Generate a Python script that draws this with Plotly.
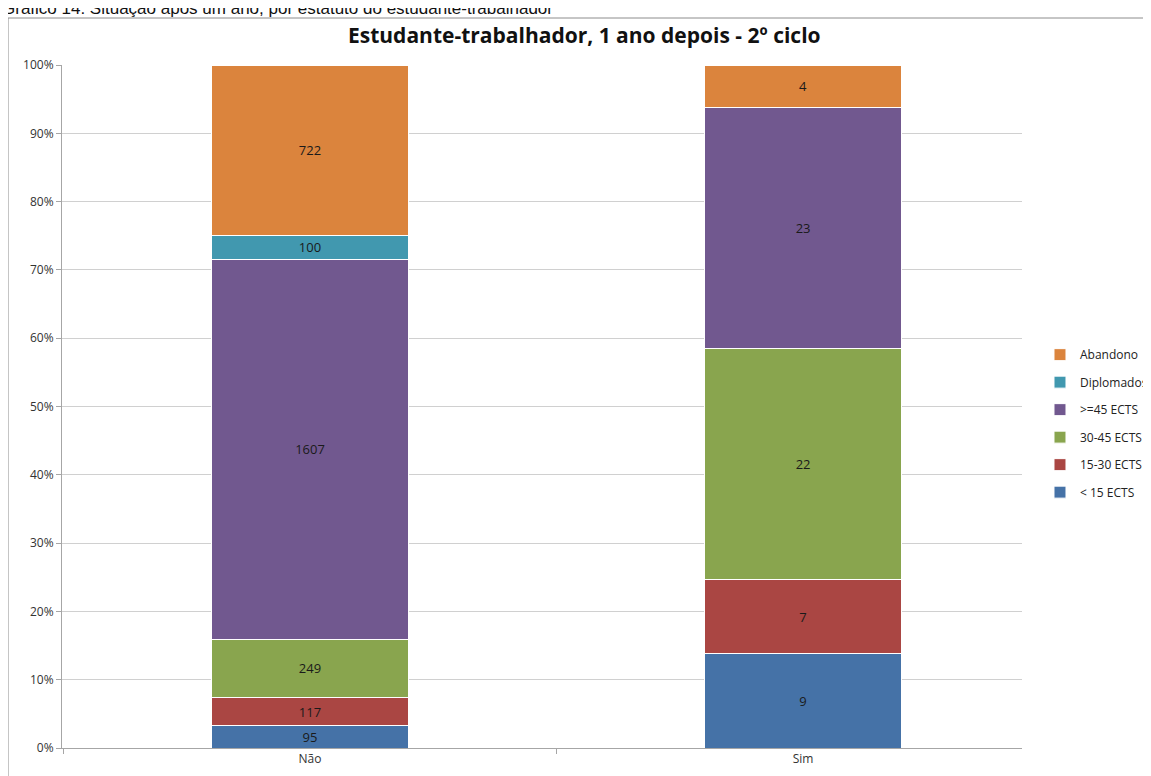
import plotly.graph_objects as go

categorias = ["Não", "Sim"]
series = ["< 15 ECTS", "15-30 ECTS", "30-45 ECTS", ">=45 ECTS", "Diplomados", "Abandono"]
menos_15 = [95, 9]
ects_15_30 = [117, 7]
ects_30_45 = [249, 22]
mais_45 = [1607, 23]
diplomados = [100, 0]
abandono = [722, 4]

valores = [menos_15, ects_15_30, ects_30_45, mais_45, diplomados, abandono]
cores = ["#4572A7", "#AA4643", "#89A54E", "#71588F", "#4198AF", "#DB843D"]

# the page body has an 8px margin, so plot pixels are page pixels minus 8
PLOT_L, PLOT_B, PLOT_W, PLOT_H = 62, 748, 960, 683


def px_x(p):
    return (p - PLOT_L) / PLOT_W


def px_y(p):
    return (PLOT_B - p) / PLOT_H


fig = go.Figure()
for i, (nome, vals, cor) in enumerate(zip(series, valores, cores)):
    fig.add_trace(go.Bar(
        x=categorias,
        y=vals,
        name=nome,
        legendgroup=nome,
        legendrank=100 - i,
        marker=dict(color=cor, line=dict(color="white", width=1)),
        width=0.4,
        text=[str(v) if v else "" for v in vals],
        textposition="inside",
        insidetextanchor="middle",
        textangle=0,
        constraintext="none",
        textfont=dict(color="#1a1a1a", size=13, family="Open Sans"),
        hoverinfo="skip",
    ))

fig.update_layout(
    barmode="stack",
    barnorm="percent",
    width=1151,
    height=776,
    margin=dict(l=54, r=137, t=57, b=36),
    paper_bgcolor="white",
    plot_bgcolor="white",
    font=dict(family="Open Sans", size=12, color="#333333"),
    showlegend=True,
    legend=dict(
        traceorder="grouped",
        xref="container", yref="container",
        x=0.8966, y=0.572, xanchor="left", yanchor="top",
        font=dict(size=12, family="Open Sans", color="#222222"),
        itemwidth=30,
        tracegroupgap=8.5,
        bgcolor="rgba(0,0,0,0)",
    ),
    annotations=[
        dict(text="<b>Estudante-trabalhador, 1 ano depois - 2º ciclo</b>",
             xref="paper", yref="paper", x=px_x(584), y=px_y(35),
             xanchor="center", yanchor="middle", showarrow=False,
             font=dict(size=21, family="Open Sans", color="#111111")),
        dict(text="Gráfico 14: Situação após um ano, por estatuto do estudante-trabalhador",
             xref="paper", yref="paper", x=px_x(0), y=px_y(20),
             xanchor="left", yanchor="bottom", showarrow=False,
             font=dict(size=17, family="Liberation Sans", color="#111111")),
    ],
    shapes=[
        dict(type="rect", xref="paper", yref="paper",
             x0=px_x(8), x1=1.3, y0=-0.2, y1=px_y(18),
             line=dict(color="#8c8c8c", width=1), fillcolor="rgba(0,0,0,0)",
             layer="below"),
    ],
)

fig.update_xaxes(
    type="category",
    range=[-0.503, 1.444],
    showline=True, linecolor="#a6a6a6", linewidth=1,
    ticks="outside", tickson="boundaries", ticklen=5, tickcolor="#a6a6a6",
    showgrid=False,
    tickfont=dict(size=12, color="#333333"),
)
fig.update_yaxes(
    range=[0, 100],
    dtick=10,
    ticksuffix="%",
    showline=True, linecolor="#a6a6a6", linewidth=1,
    ticks="outside", ticklen=5, tickcolor="#a6a6a6",
    showgrid=True, gridcolor="#d0d0d0", gridwidth=1,
    zeroline=False,
    tickfont=dict(size=12, color="#333333"),
)

fig.write_html("out.html")
